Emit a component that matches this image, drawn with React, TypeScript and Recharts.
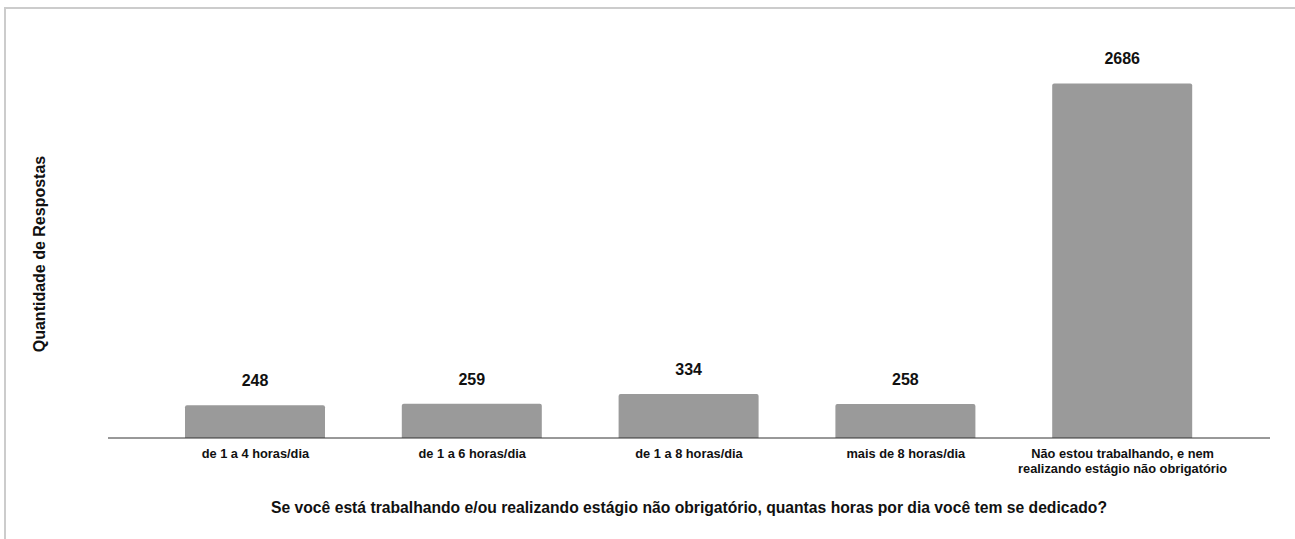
import { BarChart, Bar, XAxis, YAxis, LabelList, Label } from 'recharts';

const categories = [
  'de 1 a 4 horas/dia',
  'de 1 a 6 horas/dia',
  'de 1 a 8 horas/dia',
  'mais de 8 horas/dia',
  'Não estou trabalhando, e nem\nrealizando estágio não obrigatório',
];
const respostas = [248, 259, 334, 258, 2686];

const yTitle = 'Quantidade de Respostas';
const xTitle =
  'Se você está trabalhando e/ou realizando estágio não obrigatório, quantas horas por dia você tem se dedicado?';

const FONT = '"Liberation Sans", Arial, sans-serif';

const data = categories.map((c, i) => ({ name: c, value: respostas[i] }));

function CategoryTick({ x, y, payload }: any) {
  const lines = String(payload.value).split('\n');
  return (
    <text x={x} y={y} textAnchor="middle" fill="#111" fontFamily={FONT} fontSize={12.8} fontWeight="bold">
      {lines.map((l, i) => (
        <tspan key={i} x={x} dy={i === 0 ? 20 : 15}>
          {l}
        </tspan>
      ))}
    </text>
  );
}

export default function App() {
  return (
    <div style={{ position: 'absolute', left: 0, top: 0, width: 1295, height: 539, background: '#fff', overflow: 'hidden' }}>
      <div
        style={{
          position: 'absolute',
          left: 4,
          top: 7,
          width: 1400,
          height: 600,
          borderTop: '2px solid #cccccc',
          borderLeft: '2px solid #cccccc',
          boxSizing: 'border-box',
        }}
      />
      <div
        style={{
          position: 'absolute',
          left: 40,
          top: 254,
          transform: 'translate(-50%, -50%) rotate(-90deg)',
          whiteSpace: 'nowrap',
          fontFamily: FONT,
          fontSize: 16,
          fontWeight: 'bold',
          color: '#111',
        }}
      >
        {yTitle}
      </div>
      <BarChart
        width={1295}
        height={539}
        data={data}
        margin={{ top: 42, right: 25, left: 108, bottom: 0 }}
        style={{ position: 'absolute', left: 0, top: 0 }}
      >
        <YAxis hide domain={[0, 3000]} />
        <XAxis
          dataKey="name"
          height={101}
          padding={{ left: 39, right: 39 }}
          axisLine={{ stroke: '#333', strokeWidth: 1 }}
          tickLine={false}
          tickSize={0}
          tickMargin={0}
          interval={0}
          tick={<CategoryTick />}
        >
          <Label
            value={xTitle}
            position="insideBottom"
            offset={26}
            fill="#111"
            fontFamily={FONT}
            fontSize={15.7}
            fontWeight="bold"
          />
        </XAxis>
        <Bar dataKey="value" fill="#9a9a9a" barSize={140} radius={[2, 2, 0, 0]} isAnimationActive={false}>
          <LabelList
            dataKey="value"
            position="top"
            offset={19}
            fill="#111"
            fontFamily={FONT}
            fontSize={16}
            fontWeight="bold"
          />
        </Bar>
      </BarChart>
    </div>
  );
}
